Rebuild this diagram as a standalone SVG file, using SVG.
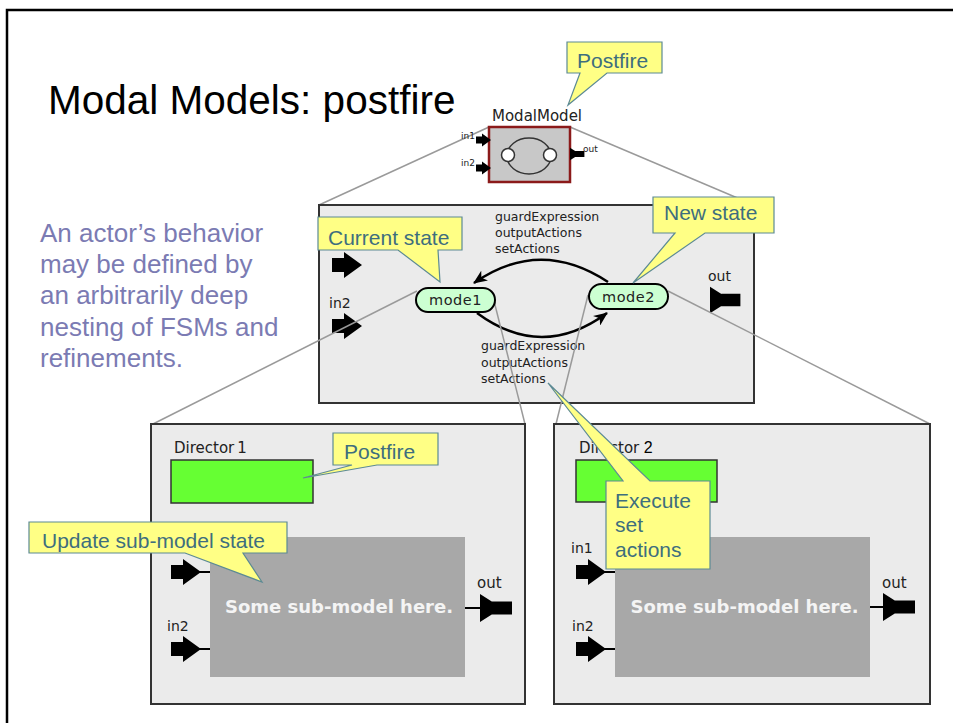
<svg xmlns="http://www.w3.org/2000/svg" width="953" height="723" viewBox="0 0 953 723">
  <defs>
    <style>
      .frame{fill:#fff;stroke:#000;stroke-width:2.5}
      .title{font-family:"Liberation Sans",Arial,sans-serif;font-size:40.5px;fill:#000}
      .para{font-family:"Liberation Sans",Arial,sans-serif;font-size:26px;fill:#7b7bb3}
      .pt{font-family:"DejaVu Sans",sans-serif;fill:#222}
      .box{fill:#ebebeb;stroke:#333;stroke-width:2}
      .zoomline{stroke:#9a9a9a;stroke-width:1.5;fill:none}
      .mode{fill:#ccffd2;stroke:#000;stroke-width:2}
      .dir{fill:#66ff33;stroke:#333;stroke-width:1.5}
      .sub{fill:#a8a8a8}
      .subtxt{font-family:"DejaVu Sans",sans-serif;font-weight:bold;font-size:18px;fill:#f4f4f4}
      .port{fill:#000}
      .wire{stroke:#000;stroke-width:2}
      .trans{fill:none;stroke:#000;stroke-width:2.5;marker-end:url(#head)}
      .note{fill:#ffff85;stroke:#5c8a94;stroke-width:1.2}
      .notetxt{font-family:"Liberation Sans",Arial,sans-serif;font-size:21px;fill:#3e6e7e}
    </style>
    <!-- port glyphs -->
    <path id="inport" d="M0,-7 H12 V-13 L30,0 L12,13 V7 H0 Z"/>
    <path id="outport" d="M0,-14 L22,0 L0,14 Z M12,-6.5 H32 V6.5 H12 Z"/>
    <marker id="head" viewBox="0 0 14 12" refX="13" refY="6" markerWidth="14" markerHeight="12" markerUnits="userSpaceOnUse" orient="auto">
      <path d="M0,0 L14,6 L0,12 L4,6 Z" fill="#000"/>
    </marker>
  </defs>

  <!-- slide frame -->
  <rect class="frame" x="7" y="10" width="1000" height="1000"/>

  <text class="title" x="48" y="114">Modal Models: postfire</text>

  <g id="description" class="para">
    <text x="40" y="242">An actor’s behavior</text>
    <text x="40" y="273">may be defined by</text>
    <text x="40" y="304">an arbitrarily deep</text>
    <text x="40" y="336">nesting of FSMs and</text>
    <text x="40" y="367">refinements.</text>
  </g>

  <!-- zoom guide lines -->
  <g id="connectors">
    <line class="zoomline" x1="489" y1="127" x2="319" y2="205"/>
    <line class="zoomline" x1="570" y1="127" x2="754" y2="205"/>
  </g>

  <!-- ModalModel actor icon -->
  <g id="modalmodel">
    <text class="pt" x="492" y="121" font-size="15">ModalModel</text>
    <rect x="489" y="127" width="81" height="55" fill="#c8c8c8" stroke="#8b1a1a" stroke-width="2.5"/>
    <ellipse cx="529" cy="156" rx="22" ry="18" fill="none" stroke="#333" stroke-width="1.5"/>
    <circle cx="508" cy="155" r="6.5" fill="#fff" stroke="#333" stroke-width="1.5"/>
    <circle cx="550" cy="155" r="6.5" fill="#fff" stroke="#333" stroke-width="1.5"/>
    <use href="#inport" class="port" transform="translate(476,140) scale(0.5)"/>
    <use href="#inport" class="port" transform="translate(476,168) scale(0.5)"/>
    <use href="#outport" class="port" transform="translate(570,154) scale(0.45)"/>
    <text class="pt" x="461" y="139" font-size="9">in1</text>
    <text class="pt" x="461" y="166" font-size="9">in2</text>
    <text class="pt" x="583" y="152" font-size="9">out</text>
  </g>

  <!-- FSM refinement of the modal model -->
  <g id="fsm">
    <rect class="box" x="319" y="205" width="435" height="198"/>
    <use href="#inport" class="port" transform="translate(332,265)"/>
    <text class="pt" x="329" y="308" font-size="14">in2</text>
    <use href="#inport" class="port" transform="translate(332,326)"/>
    <text class="pt" x="708" y="281" font-size="14">out</text>
    <use href="#outport" class="port" transform="translate(710,300) scale(0.95)"/>
  </g>

  <g id="transitions">
    <path class="trans" d="M608,282 Q540,237 474,283"/>
    <path class="trans" d="M477,313 Q542,361 607,313"/>
    <g class="pt" font-size="12.5" fill="#333">
      <text x="495" y="221">guardExpression</text>
      <text x="495" y="237">outputActions</text>
      <text x="495" y="253">setActions</text>
      <text x="481" y="350">guardExpression</text>
      <text x="481" y="367">outputActions</text>
      <text x="481" y="383">setActions</text>
    </g>
  </g>

  <!-- zoom guide lines from states to their refinements -->
  <g id="refinement-links">
    <line class="zoomline" x1="151" y1="425" x2="417" y2="291"/>
    <line class="zoomline" x1="493" y1="297" x2="525" y2="424"/>
    <line class="zoomline" x1="588" y1="295" x2="556" y2="424"/>
    <line class="zoomline" x1="668" y1="291" x2="930" y2="424"/>
  </g>

  <g id="mode1">
    <rect class="mode" x="416" y="288" width="79" height="24" rx="12"/>
    <text class="pt" x="455.5" y="305" font-size="14.5" text-anchor="middle" letter-spacing="0.5">mode1</text>
  </g>
  <g id="mode2">
    <rect class="mode" x="589" y="284" width="79" height="25" rx="12.5"/>
    <text class="pt" x="628.5" y="302" font-size="14.5" text-anchor="middle" letter-spacing="0.5">mode2</text>
  </g>

  <!-- refinement of mode1 -->
  <g id="refinement1">
    <rect class="box" x="151" y="424" width="374" height="280"/>
    <text class="pt" x="174" y="453" font-size="15">Director<tspan dx="3">1</tspan></text>
    <rect class="dir" x="171" y="460" width="142" height="43"/>
    <rect class="sub" x="210" y="537" width="255" height="140"/>
    <text class="subtxt" x="339" y="613" text-anchor="middle">Some sub-model here.</text>
    <use href="#inport" class="port" transform="translate(171,572)"/>
    <line class="wire" x1="199" y1="572" x2="210" y2="572"/>
    <text class="pt" x="167" y="631" font-size="14">in2</text>
    <use href="#inport" class="port" transform="translate(171,649)"/>
    <line class="wire" x1="199" y1="649" x2="210" y2="649"/>
    <text class="pt" x="477" y="588" font-size="15">out</text>
    <line class="wire" x1="465" y1="608" x2="481" y2="608"/>
    <use href="#outport" class="port" transform="translate(480,608)"/>
  </g>

  <!-- refinement of mode2 -->
  <g id="refinement2">
    <rect class="box" x="554" y="424" width="376" height="280"/>
    <text class="pt" x="579" y="453" font-size="15">Director<tspan font-family="Liberation Sans, Arial, sans-serif" font-size="16" fill="#000"> 2</tspan></text>
    <rect class="dir" x="576" y="460" width="141" height="42"/>
    <rect class="sub" x="615" y="537" width="255" height="140"/>
    <text class="subtxt" x="744.5" y="613" text-anchor="middle">Some sub-model here.</text>
    <text class="pt" x="571" y="553" font-size="14">in1</text>
    <use href="#inport" class="port" transform="translate(576,572)"/>
    <line class="wire" x1="604" y1="572" x2="615" y2="572"/>
    <text class="pt" x="572" y="631" font-size="14">in2</text>
    <use href="#inport" class="port" transform="translate(576,649)"/>
    <line class="wire" x1="604" y1="649" x2="615" y2="649"/>
    <text class="pt" x="882" y="588" font-size="15">out</text>
    <line class="wire" x1="870" y1="607" x2="884" y2="607"/>
    <use href="#outport" class="port" transform="translate(883,607)"/>
  </g>

  <!-- callouts -->
  <g id="note-postfire-top">
    <path class="note" d="M567,42 H662 V73 H607 L568,105 L580,73 H567 Z"/>
    <text class="notetxt" x="577" y="68">Postfire</text>
  </g>
  <g id="note-current">
    <path class="note" d="M318,217 H462 V250 H438 L440,282 L398,250 H318 Z"/>
    <text class="notetxt" x="328" y="245">Current state</text>
  </g>
  <g id="note-new">
    <path class="note" d="M653,197 H774 V233 H705 L633,283 L675,233 H653 Z"/>
    <text class="notetxt" x="664" y="220">New state</text>
  </g>
  <g id="note-postfire-director">
    <path class="note" d="M333,433 H438 V465 H377 L303,478 L352,465 H333 Z"/>
    <text class="notetxt" x="344" y="459">Postfire</text>
  </g>
  <g id="note-update">
    <path class="note" d="M29,522 H287 V553 H243 L262,582 L185,553 H29 Z"/>
    <text class="notetxt" x="42" y="548">Update sub-model state</text>
  </g>
  <g id="note-execute">
    <path class="note" d="M606,481 H623 L548,383 L650,481 H710 V569 H606 Z"/>
    <text class="notetxt" x="615" y="508">Execute</text>
    <text class="notetxt" x="615" y="532">set</text>
    <text class="notetxt" x="615" y="557">actions</text>
  </g>
</svg>
